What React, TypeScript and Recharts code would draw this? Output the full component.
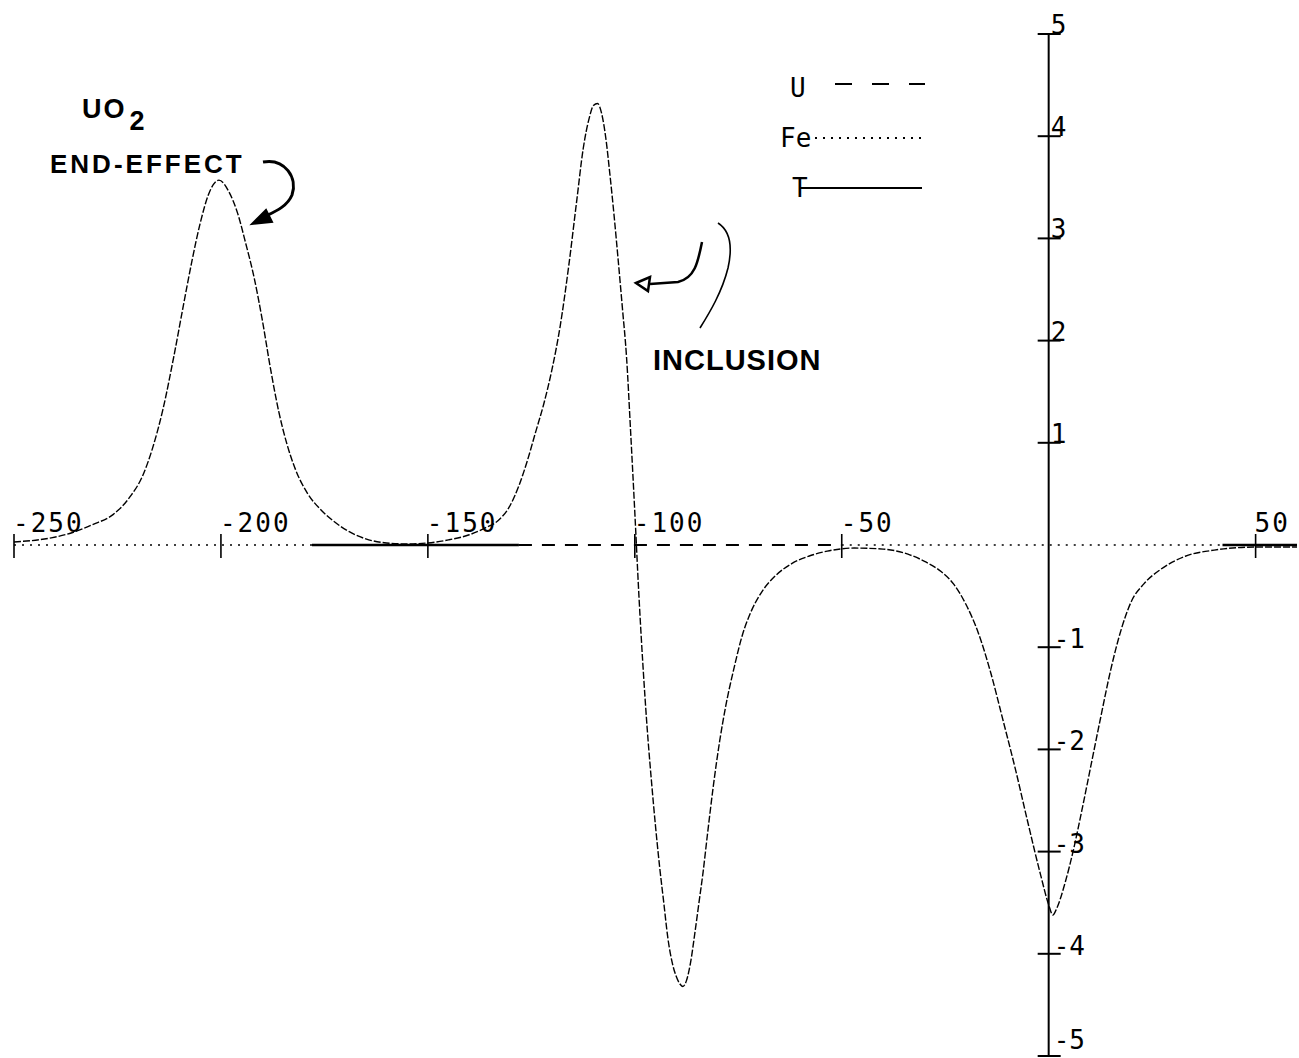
import React from 'react';
import { LineChart, Line, XAxis, YAxis, ReferenceLine, Legend } from 'recharts';

// signal
const signalX = [
  -250, -241, -236, -231, -226, -222, -219, -216.5, -214, -211.5, -209, -207, -205, -203, -200.5,
  -198, -196, -194, -192, -190, -188, -186, -184, -182, -179, -176, -173, -169, -165, -160, -155,
  -150, -145, -140, -136, -133, -130.5, -128, -126, -124, -122, -120, -118, -116, -114, -112.5, -111,
  -110, -109, -108, -107, -106, -105, -104, -103, -102, -101, -100, -99, -98, -97, -96, -95, -94,
  -93, -92, -91, -90, -89, -88.4, -87.5, -86.5, -85.5, -84.5, -83.5, -82.5, -81, -79.5, -78, -76,
  -74, -72, -69.5, -66, -62, -58, -53.5, -47, -40, -34, -30, -26, -23, -20, -17, -14, -11, -8, -5,
  -2, 0, 1, 2, 4, 6, 8, 10, 12.5, 15, 17.5, 20, 23, 27, 33, 40, 50, 60,
];
const signalY = [
  0.03, 0.07, 0.12, 0.2, 0.3, 0.47, 0.67, 0.95, 1.33, 1.82, 2.36, 2.78, 3.15, 3.43, 3.57,
  3.45, 3.25, 2.95, 2.62, 2.2, 1.72, 1.3, 0.98, 0.74, 0.5, 0.35, 0.24, 0.13, 0.06, 0.02, 0.01,
  0.02, 0.05, 0.1, 0.17, 0.24, 0.36, 0.58, 0.82, 1.1, 1.38, 1.72, 2.15, 2.72, 3.38, 3.87, 4.18,
  4.3, 4.32, 4.22, 3.98, 3.62, 3.22, 2.78, 2.32, 1.84, 1.1, 0.32, -0.5, -1.2, -1.8, -2.3, -2.75, -3.15,
  -3.5, -3.85, -4.08, -4.22, -4.3, -4.32, -4.26, -4.08, -3.8, -3.5, -3.2, -2.85, -2.35, -1.92, -1.57, -1.2,
  -0.88, -0.66, -0.47, -0.3, -0.18, -0.11, -0.06, -0.03, -0.04, -0.09, -0.16, -0.26, -0.38, -0.58, -0.86, -1.25, -1.72, -2.2, -2.72,
  -3.22, -3.52, -3.62, -3.55, -3.3, -2.98, -2.6, -2.2, -1.7, -1.22, -0.83, -0.55, -0.38, -0.24, -0.11, -0.05, -0.02, -0.02,
];

// flat traces along the zero line
const uX = [-128, -50];
const uY = [0, 0];
const feX = [-250, -178, -114, -50, 42];
const feY: (number | null)[] = [0, 0, null, 0, 0];
const tX = [-178, -128, -40, 42, 60];
const tY: (number | null)[] = [0, 0, null, 0, 0];

const xTickValues = [-250, -200, -150, -100, -50, 50];
const xTickLabels = ['-250', '-200', '-150', '-100', '-50', '50'];
const yTickValues = [5, 4, 3, 2, 1, -1, -2, -3, -4, -5];
const yTickLabels = ['5', '4', '3', '2', '1', '-1', '-2', '-3', '-4', '-5'];

const legendNames = ['U', 'Fe', 'T'];

const MONO = '"DejaVu Sans Mono", monospace';
const BOLD = '"Liberation Sans", Arial, sans-serif';

const zip = (xs: number[], ys: (number | null)[]) => xs.map((x, i) => ({ x, y: ys[i] }));

const signalData = zip(signalX, signalY);
const uData = zip(uX, uY);
const feData = zip(feX, feY);
const tData = zip(tX, tY);
const xTickData = xTickValues.map((x, i) => ({ x, y: 0, label: xTickLabels[i] }));
const yTickData = yTickValues.map((y, i) => ({ x: 0, y, label: yTickLabels[i] }));

const XTick = (props: any) => {
  const { cx, cy, payload } = props;
  return (
    <g key={`xt-${payload.x}`}>
      <line x1={cx} x2={cx} y1={cy - 11} y2={cy + 13} stroke="#000" strokeWidth={1.6} />
      <text x={cx - 1} y={cy - 13} fontFamily={MONO} fontSize={26} letterSpacing={2} fill="#000">
        {payload.label}
      </text>
    </g>
  );
};

const YTick = (props: any) => {
  const { cx, cy, payload } = props;
  const neg = payload.y < 0;
  // keep the lowest label inside the picture
  const ty = neg ? Math.min(cy + 1, 1049) : cy;
  return (
    <g key={`yt-${payload.y}`}>
      <line x1={cx - 11} x2={cx + 12} y1={cy} y2={cy} stroke="#000" strokeWidth={2} />
      <text x={neg ? cx + 5 : cx + 2} y={ty} fontFamily={MONO} fontSize={26} fill="#000">
        {payload.label}
      </text>
    </g>
  );
};

// legend rows: U dashed, Fe dotted, T solid
const legendRows = [
  { tx: 20, ty: 37, x1: 65, x2: 155, ly: 24, dash: '17 20' },
  { tx: 10, ty: 87, x1: 45, x2: 152, ly: 78, dash: '2 6' },
  { tx: 22, ty: 137, x1: 30, x2: 152, ly: 128, dash: undefined },
];

const renderLegend = () => (
  <svg width={170} height={150}>
    {legendNames.map((name, i) => {
      const r = legendRows[i];
      return (
        <g key={name}>
          <text x={r.tx} y={r.ty} fontFamily={MONO} fontSize={26} fill="#000">
            {name}
          </text>
          <line x1={r.x1} x2={r.x2} y1={r.ly} y2={r.ly} stroke="#000" strokeWidth={2} strokeDasharray={r.dash} />
        </g>
      );
    })}
  </svg>
);

const Annotations = () => (
  <svg
    width={1299}
    height={1058}
    style={{ position: 'absolute', left: 0, top: 0, pointerEvents: 'none' }}
  >
    <text x={82} y={118} fontFamily={BOLD} fontWeight="bold" fontSize={27} letterSpacing={2} fill="#000">
      UO<tspan dx={3} dy={12}>2</tspan>
    </text>
    <text x={50} y={173} fontFamily={BOLD} fontWeight="bold" fontSize={26} letterSpacing={3} fill="#000">
      END-EFFECT
    </text>
    <path d="M 263 162 C 285 158, 298 178, 292 195 C 287 207, 274 212, 264 217" fill="none" stroke="#000" strokeWidth={3} />
    <polygon points="252,224 266,210 272,222" fill="#000" stroke="#000" strokeWidth={2} />

    <text x={653} y={370} fontFamily={BOLD} fontWeight="bold" fontSize={29} letterSpacing={1} fill="#000">
      INCLUSION
    </text>
    <path d="M 702 242 C 698 262, 695 278, 678 282 L 650 284" fill="none" stroke="#000" strokeWidth={2.5} />
    <polygon points="636,283 650,277 648,291" fill="none" stroke="#000" strokeWidth={2.5} />
    <path d="M 718 223 C 732 232, 732 250, 728 268 C 722 292, 710 312, 700 328" fill="none" stroke="#000" strokeWidth={1.6} />
  </svg>
);

export default function App() {
  return (
    <div style={{ position: 'absolute', left: 0, top: 0, width: 1299, height: 1058, background: '#fff' }}>
      <LineChart width={1299} height={1058} margin={{ top: 34, right: 2, bottom: 2, left: 14 }}>
        <XAxis type="number" dataKey="x" domain={[-250, 60]} hide />
        <YAxis type="number" dataKey="y" domain={[-5, 5]} hide />
        <ReferenceLine x={0} stroke="#000" strokeWidth={2} />
        <Legend
          layout="horizontal"
          verticalAlign="middle"
          align="center"
          content={renderLegend}
          wrapperStyle={{ left: 770, top: 60, width: 170, height: 150 }}
        />
        <Line data={feData} dataKey="y" name="Fe" stroke="#000" strokeWidth={1.6} strokeDasharray="2 6" dot={false} activeDot={false} isAnimationActive={false} />
        <Line data={uData} dataKey="y" name="U" stroke="#000" strokeWidth={2.2} strokeDasharray="13 10" dot={false} activeDot={false} isAnimationActive={false} />
        <Line data={tData} dataKey="y" name="T" stroke="#000" strokeWidth={2.6} dot={false} activeDot={false} isAnimationActive={false} />
        <Line
          data={signalData}
          dataKey="y"
          name="signal"
          type="monotone"
          stroke="#000"
          strokeWidth={1.4}
          strokeDasharray="7 2"
          dot={false}
          activeDot={false}
          legendType="none"
          isAnimationActive={false}
        />
        <Line data={xTickData} dataKey="y" name="xticks" stroke="none" dot={XTick} activeDot={false} legendType="none" isAnimationActive={false} />
        <Line data={yTickData} dataKey="y" name="yticks" stroke="none" dot={YTick} activeDot={false} legendType="none" isAnimationActive={false} />
      </LineChart>
      <Annotations />
    </div>
  );
}
